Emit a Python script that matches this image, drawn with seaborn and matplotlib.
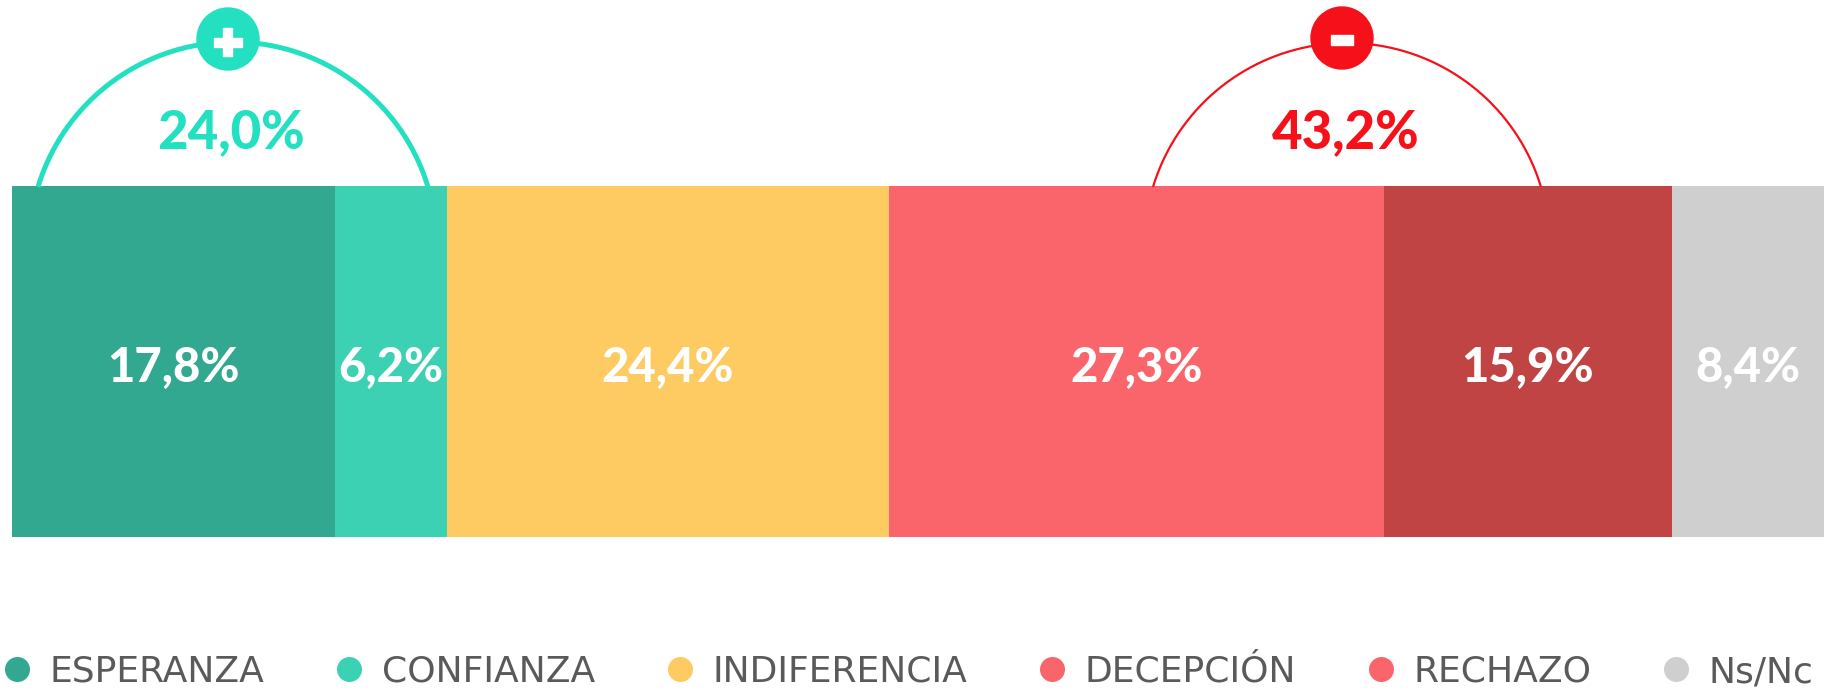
import numpy as np
import pandas as pd
import matplotlib
matplotlib.use("Agg")
import matplotlib.pyplot as plt
from matplotlib.lines import Line2D
from matplotlib.patches import Circle, Rectangle
import seaborn as sns

# ---- data ----
categories = ["ESPERANZA", "CONFIANZA", "INDIFERENCIA", "DECEPCIÓN", "RECHAZO", "Ns/Nc"]
values = [17.8, 6.2, 24.4, 27.3, 15.9, 8.4]
bar_colors = ["#31A88F", "#3DD1B3", "#FECB62", "#FA656C", "#C14445", "#D0CFD0"]
legend_colors = ["#31A88F", "#3DD1B3", "#FECB62", "#FA656C", "#FA656C", "#D0CFD0"]
group_labels = ["24,0%", "43,2%"]
group_signs = ["+", "-"]
group_colors = ["#22E0C0", "#F5101A"]

sns.set_theme(style="white")
plt.rcParams["font.family"] = ["Lato", "DejaVu Sans"]

W, H = 1841, 697
fig = plt.figure(figsize=(W / 100, H / 100), dpi=100)
fig.patch.set_facecolor("white")

# main stacked bar axes
ax = fig.add_axes([12 / W, (H - 537) / H, 1812 / W, 351 / H])
df = pd.DataFrame({"cat": categories, "value": values})
df["cum"] = df["value"].cumsum()
df["row"] = ""
for i in range(len(df) - 1, -1, -1):
    sns.barplot(data=df.iloc[[i]], x="cum", y="row", orient="h", color=bar_colors[i],
                saturation=1, width=1, linewidth=0, ax=ax)
ax.set_xlim(0, df["cum"].iloc[-1])
ax.set_ylim(0.5, -0.5)
ax.axis("off")

for i, row in df.iterrows():
    center = row["cum"] - row["value"] / 2
    txt = f"{row['value']:.1f}".replace(".", ",") + "%"
    ax.text(center, 0.018, txt, ha="center", va="center", color="white",
            fontsize=34, fontweight=900)

# overlay axes in pixel coords (image orientation)
ov = fig.add_axes([0, 0, 1, 1])
ov.set_xlim(0, W)
ov.set_ylim(H, 0)
ov.axis("off")
ov.patch.set_alpha(0)

def draw_arc(x_left, x_right, y_foot, y_top, color, lw):
    cx = (x_left + x_right) / 2
    half = (x_right - x_left) / 2
    h = y_foot - y_top
    R = (half ** 2 + h ** 2) / (2 * h)
    cy = y_top + R
    a = np.arcsin((cy - y_foot) / R)
    th = np.linspace(a, np.pi - a, 300)
    ov.plot(cx + R * np.cos(th), cy - R * np.sin(th), color=color, lw=lw,
            solid_capstyle="butt")

# positive arc
draw_arc(38, 428, 187, 42, group_colors[0], 3.6)
ov.add_patch(Circle((228, 39), 31, color=group_colors[0], zorder=3))
ov.add_patch(Rectangle((228 - 14, 42 - 4.5), 28, 9, color="white", zorder=4))
ov.add_patch(Rectangle((228 - 4.5, 42 - 14), 9, 28, color="white", zorder=4))
ov.text(231, 133, group_labels[0], ha="center", va="center", color=group_colors[0],
        fontsize=38, fontweight=900)

# negative arc
draw_arc(1153, 1541, 187, 43, group_colors[1], 1.6)
ov.add_patch(Circle((1342, 38), 31, color=group_colors[1], zorder=3))
ov.add_patch(Rectangle((1342 - 11, 40 - 5), 22, 10, color="white", zorder=4))
ov.text(1346, 133, group_labels[1], ha="center", va="center", color=group_colors[1],
        fontsize=38, fontweight=900)

# legend
handles = [Line2D([0], [0], marker="o", linestyle="", markersize=18,
                  markerfacecolor=c, markeredgewidth=0) for c in legend_colors]
leg = fig.legend(handles, categories, loc="center", bbox_to_anchor=(908 / W, 1 - 672 / H),
                 ncol=6, frameon=False, handlelength=0.8, handletextpad=0.5,
                 columnspacing=1.95, borderpad=0, borderaxespad=0,
                 prop={"family": ["DejaVu Sans"], "weight": "normal", "size": 26})
for t in leg.get_texts():
    t.set_color("#5A5A5A")

fig.savefig("out.png", dpi=100, facecolor="white")
